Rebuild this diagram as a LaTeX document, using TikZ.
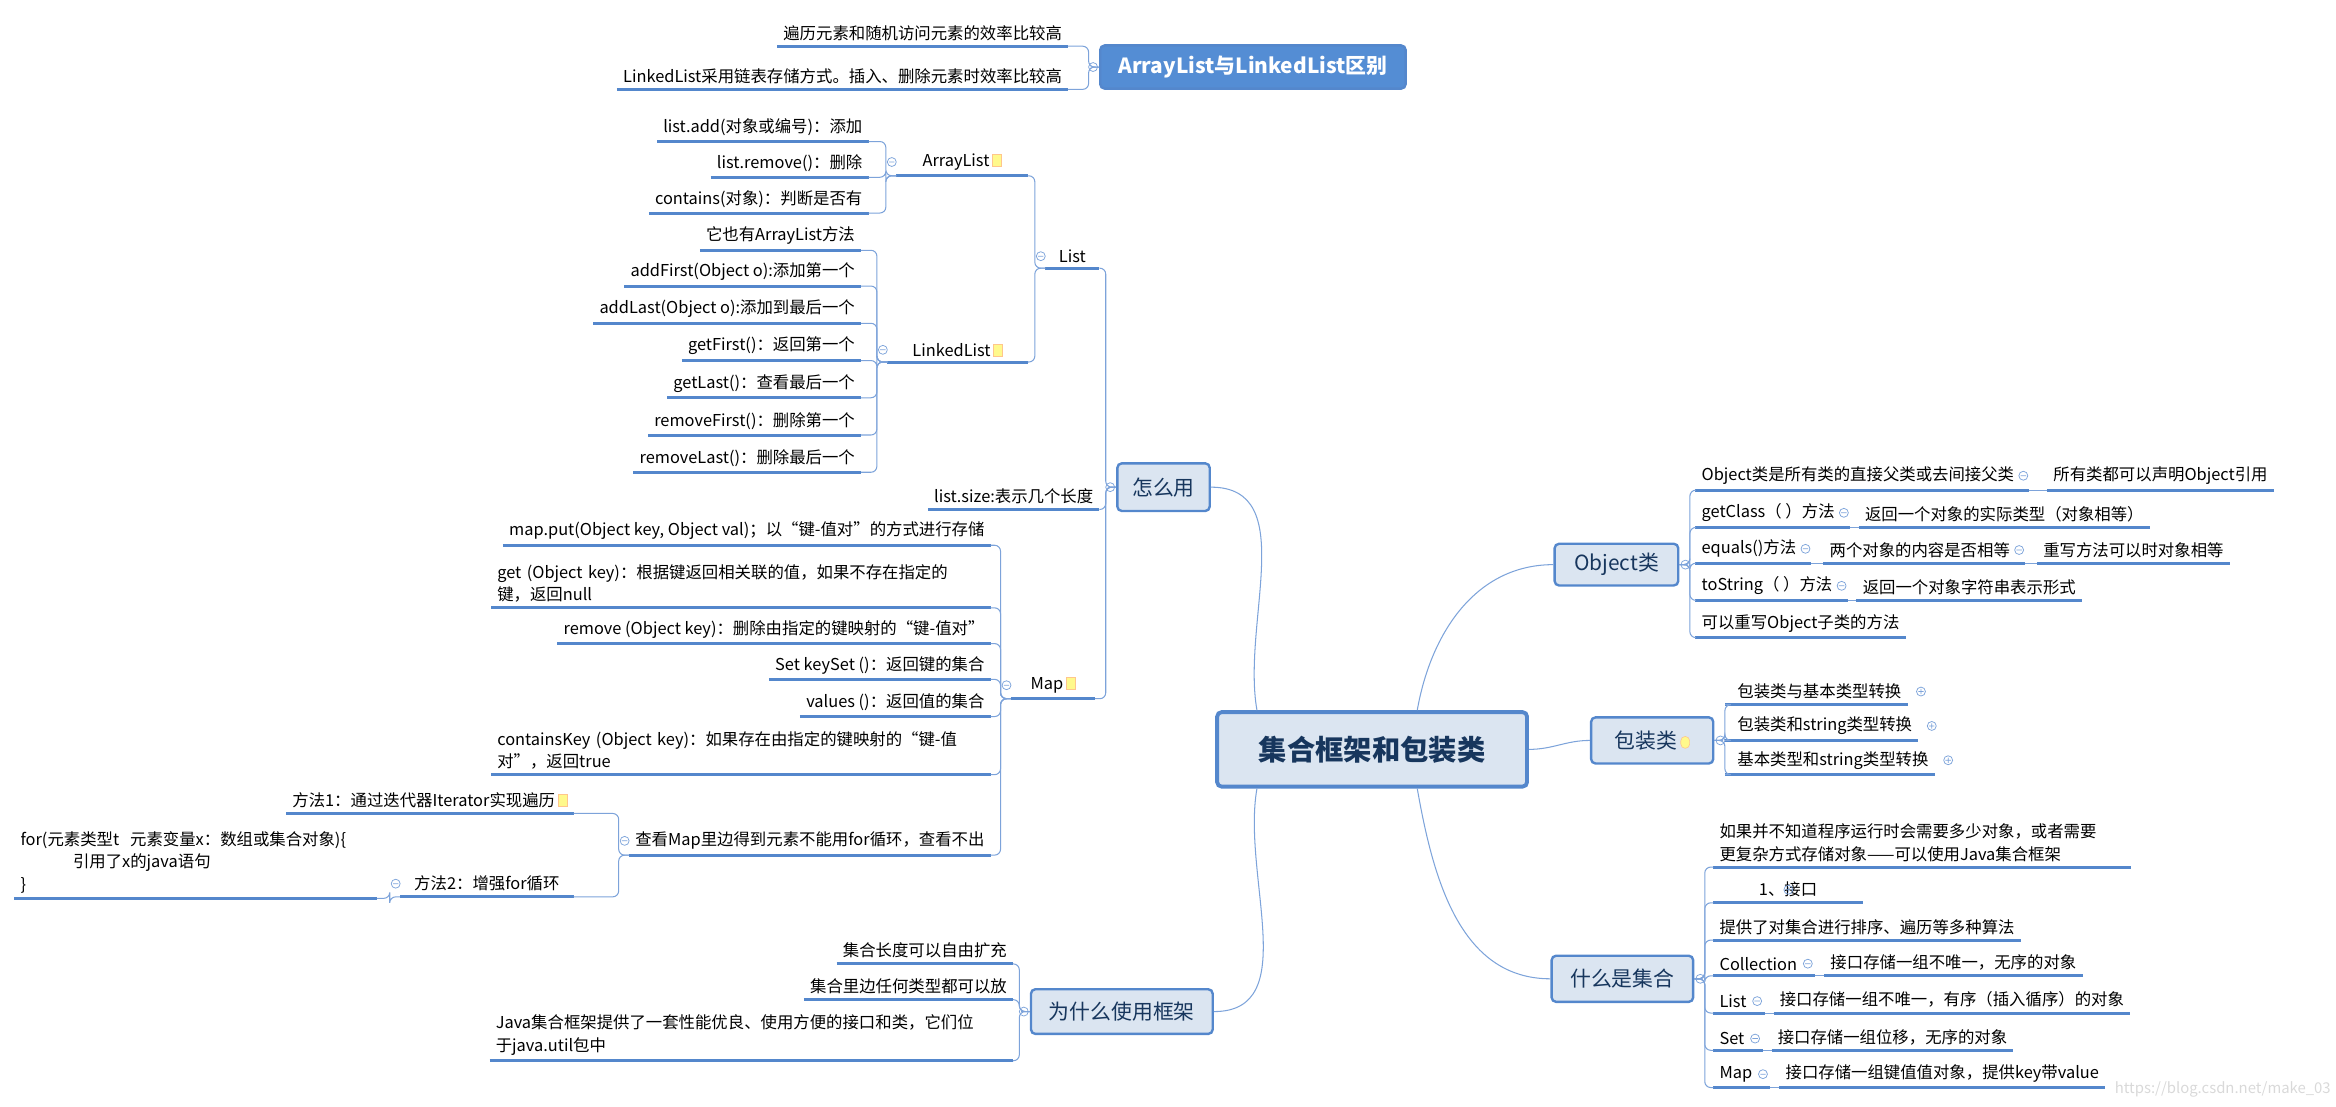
\documentclass[tikz,border=0pt]{standalone}
\usepackage{fontspec}
\setmainfont{Noto Sans CJK SC}
\usetikzlibrary{positioning}
\definecolor{ulblue}{RGB}{84,135,204}
\definecolor{lnblue}{RGB}{125,163,218}
\definecolor{boxfill}{RGB}{219,229,241}
\definecolor{boxtext}{RGB}{23,54,93}
\definecolor{hdfill}{RGB}{84,141,212}
\newcommand\noteicon{\,\tikz[baseline=0pt]\draw[fill=yellow!45,draw=orange!45,line width=.4pt](0pt,0pt) rectangle (6pt,8pt);}
\newcommand\tgm[1]{\draw[tog] (#1) circle (3) ++(-1.8,0) -- ++(3.6,0);}
\newcommand\tgp[1]{\draw[tog] (#1) circle (3) ++(-1.8,0) -- ++(3.6,0) ++(-1.8,-1.8) -- ++(0,3.6);}
\newcommand\lbr[2]{\draw[conn,rounded corners=4] (#2.south east) -| ([xshift=-7]#1) -- (#1);}
\newcommand\rbr[2]{\draw[conn,rounded corners=4] (#2.south west) -| ([xshift=7]#1) -- (#1);}
\tikzset{
  uline/.style={draw=ulblue,line width=2pt},
  conn/.style={draw=lnblue,line width=.7pt},
  tog/.style={draw=lnblue,line width=.5pt},
  leaf/.style={inner xsep=4,inner ysep=3.5,font=\fontsize{11}{15}\selectfont,align=left,
    append after command={(\tikzlastnode.south west) edge[uline] (\tikzlastnode.south east)}},
  lleaf/.style={leaf,anchor=south east},
  rleaf/.style={leaf,anchor=south west},
  topic/.style={draw=ulblue,line width=1.6pt,rounded corners=3,fill=boxfill,text=boxtext,
    font=\fontsize{14}{16}\selectfont,inner sep=0pt},
}
\begin{document}
\begin{tikzpicture}[x=1pt,y=-1pt]
\useasboundingbox (0,0) rectangle (1568,743);
% centre and main topics
\node (cen)[topic,line width=2.6pt,minimum width=208,minimum height=50,font=\fontsize{19}{22}\selectfont\bfseries] at (921,503) {集合框架和包装类};
\node (cmp)[topic,fill=hdfill,text=white,minimum width=205,minimum height=29,font=\fontsize{14}{16}\selectfont\bfseries] at (841,45) {ArrayList与LinkedList区别};
\node (um)[topic,minimum width=62,minimum height=32] at (781,327) {怎么用};
\node (wy)[topic,minimum width=122,minimum height=30] at (753,679) {为什么使用框架};
\node (obj)[topic,minimum width=83,minimum height=28] at (1085,379) {Object类};
\node (pk)[topic,minimum width=82,minimum height=31] at (1109,497) {包装类\noteicon};
\node (jh)[topic,minimum width=95,minimum height=31] at (1089,657) {什么是集合};
\draw[conn] ([xshift=28]cen.north west) to[out=100,in=0] (um.east);
\draw[conn] ([xshift=28]cen.south west) to[out=260,in=0] (wy.east);
\draw[conn] ([xshift=-75]cen.north east) to[out=80,in=180] (obj.west);
\draw[conn] (cen.east) to[out=0,in=180] (pk.west);
\draw[conn] ([xshift=-75]cen.south east) to[out=-80,in=180] (jh.west);

% ArrayList vs LinkedList
\node (c1)[lleaf] at (717,31) {遍历元素和随机访问元素的效率比较高};
\node (c2)[lleaf] at (717,60) {LinkedList采用链表存储方式。插入、删除元素时效率比较高};
\foreach \c in {c1,c2} {\lbr{cmp.west}{\c}}
\tgm{[xshift=-4]cmp.west}

% how to use
\node (lst)[lleaf,minimum width=36] at (738,180) {List};
\node (lsz)[lleaf] at (738,342) {list.size:表示几个长度};
\node (mp)[lleaf,minimum width=56] at (735,469) {Map\noteicon};
\foreach \c in {lst,lsz,mp} {\lbr{um.west}{\c}}
\tgm{[xshift=-4]um.west}
\node (al)[lleaf,minimum width=88] at (690,118) {ArrayList\noteicon};
\node (ll)[lleaf,minimum width=94] at (690,243) {LinkedList\noteicon};
\foreach \c in {al,ll} {\lbr{lst.south west}{\c}}
\tgm{[xshift=-3]lst.west}
\node (a1)[lleaf] at (583,95) {list.add(对象或编号)：添加};
\node (a2)[lleaf] at (583,119) {list.remove()：删除};
\node (a3)[lleaf] at (583,143) {contains(对象)：判断是否有};
\foreach \c in {a1,a2,a3} {\lbr{al.south west}{\c}}
\tgm{[xshift=-3]al.west}
\node (l1)[lleaf] at (578,168) {它也有ArrayList方法};
\node (l2)[lleaf] at (578,192) {addFirst(Object o):添加第一个};
\node (l3)[lleaf] at (578,217) {addLast(Object o):添加到最后一个};
\node (l4)[lleaf] at (578,242) {getFirst()：返回第一个};
\node (l5)[lleaf] at (578,267) {getLast()：查看最后一个};
\node (l6)[lleaf] at (578,292) {removeFirst()：删除第一个};
\node (l7)[lleaf] at (578,317) {removeLast()：删除最后一个};
\foreach \c in {l1,l2,l3,l4,l5,l6,l7} {\lbr{ll.south west}{\c}}
\tgm{[xshift=-3]ll.west}
% map
\node (m1)[lleaf] at (665,366) {map.put(Object key, Object val)；以“键-值对”的方式进行存储};
\node (m2)[lleaf,text width=327] at (665,408) {get (Object key)：根据键返回相关联的值，如果不存在指定的\\键，返回null};
\node (m3)[lleaf] at (665,432) {remove (Object key)：删除由指定的键映射的“键-值对”};
\node (m4)[lleaf] at (665,456) {Set keySet ()：返回键的集合};
\node (m5)[lleaf] at (665,481) {values ()：返回值的集合};
\node (m6)[lleaf,text width=327] at (665,520) {containsKey (Object key)：如果存在由指定的键映射的“键-值\\对”，返回true};
\node (m7)[lleaf] at (665,574) {查看Map里边得到元素不能用for循环，查看不出};
\foreach \c in {m1,m2,m3,m4,m5,m6,m7} {\lbr{mp.south west}{\c}}
\tgm{[xshift=-3]mp.west}
\node (f1)[lleaf] at (385,546) {方法1：通过迭代器Iterator实现遍历\noteicon};
\node (f2)[lleaf,minimum width=116] at (385,602) {方法2：增强for循环};
\foreach \c in {f1,f2} {\lbr{m7.south west}{\c}}
\tgm{[xshift=-3]m7.west}
\node (fr)[lleaf,text width=235] at (253,603) {for(元素类型t\ \ 元素变量x：数组或集合对象)\{\\\hspace*{3.2em}引用了x的java语句\\\}};
\lbr{f2.south west}{fr}
\tgm{[xshift=-3]f2.west}

% why
\node (w1)[lleaf] at (680,647) {集合长度可以自由扩充};
\node (w2)[lleaf] at (680,671) {集合里边任何类型都可以放};
\node (w3)[lleaf,text width=343] at (680,712) {Java集合框架提供了一套性能优良、使用方便的接口和类，它们位\\于java.util包中};
\foreach \c in {w1,w2,w3} {\lbr{wy.west}{\c}}
\tgm{[xshift=-4]wy.west}

% Object
\node (o1)[rleaf] at (1138,329) {Object类是所有类的直接父类或去间接父类\hspace{6pt}};
\node (o1b)[rleaf,right=12 of o1.south east,anchor=south west] {所有类都可以声明Object引用};
\node (o2)[rleaf] at (1138,354) {getClass（ ）方法\hspace{6pt}};
\node (o2b)[rleaf,right=6 of o2.south east,anchor=south west] {返回一个对象的实际类型（对象相等）};
\node (o3)[rleaf] at (1138,378) {equals()方法\hspace{6pt}};
\node (o3b)[rleaf,right=8 of o3.south east,anchor=south west] {两个对象的内容是否相等\hspace{6pt}};
\node (o3c)[rleaf,right=8 of o3b.south east,anchor=south west] {重写方法可以时对象相等};
\node (o4)[rleaf] at (1138,403) {toString（ ）方法\hspace{6pt}};
\node (o4b)[rleaf,right=6 of o4.south east,anchor=south west] {返回一个对象字符串表示形式};
\node (o5)[rleaf] at (1138,428) {可以重写Object子类的方法};
\foreach \c in {o1,o2,o3,o4,o5} {\rbr{obj.east}{\c}}
\tgm{[xshift=4]obj.east}
\foreach \a/\b in {o1/o1b,o2/o2b,o3/o3b,o3b/o3c,o4/o4b} {
  \draw[conn] (\a.south east) -- (\b.south west);
  \tgm{[xshift=-4]\a.east}
}

% wrapper classes
\node (p1)[rleaf] at (1158,473) {\hspace{4pt}包装类与基本类型转换};
\node (p2)[rleaf] at (1158,497) {\hspace{4pt}包装类和string类型转换};
\node (p3)[rleaf] at (1158,520) {\hspace{4pt}基本类型和string类型转换};
\foreach \c in {p1,p2,p3} {\rbr{pk.east}{\c} \tgp{[xshift=9]\c.east}}
\tgm{[xshift=4]pk.east}

% what is a collection
\node (j1)[rleaf,text width=272] at (1150,582) {如果并不知道程序运行时会需要多少对象，或者需要\\更复杂方式存储对象——可以使用Java集合框架};
\node (j2)[rleaf,minimum width=100] at (1150,606) {1、接口};
\node (j3)[rleaf] at (1150,631) {提供了对集合进行排序、遍历等多种算法};
\node (j4)[rleaf] at (1150,655) {Collection\hspace{8pt}};
\node (j4b)[rleaf,right=6 of j4.south east,anchor=south west] {接口存储一组不唯一，无序的对象};
\node (j5)[rleaf] at (1150,680) {List\hspace{8pt}};
\node (j5b)[rleaf,right=6 of j5.south east,anchor=south west] {接口存储一组不唯一，有序（插入循序）的对象};
\node (j6)[rleaf] at (1150,705) {Set\hspace{8pt}};
\node (j6b)[rleaf,right=6 of j6.south east,anchor=south west] {接口存储一组位移，无序的对象};
\node (j7)[rleaf] at (1150,730) {Map\hspace{8pt}};
\node (j7b)[rleaf,right=6 of j7.south east,anchor=south west] {接口存储一组键值值对象，提供key带value};
\foreach \c in {j1,j2,j3,j4,j5,j6,j7} {\rbr{jh.east}{\c}}
\tgm{[xshift=4]jh.east}
\tgp{[xshift=-50]j2.east}
\foreach \a/\b in {j4/j4b,j5/j5b,j6/j6b,j7/j7b} {
  \draw[conn] (\a.south east) -- (\b.south west);
  \tgm{[xshift=-5]\a.east}
}
\node (wm)[text=black!15,font=\fontsize{10}{12}\selectfont] at (1492,731) {https://blog.csdn.net/make\_03};
\end{tikzpicture}
\end{document}
